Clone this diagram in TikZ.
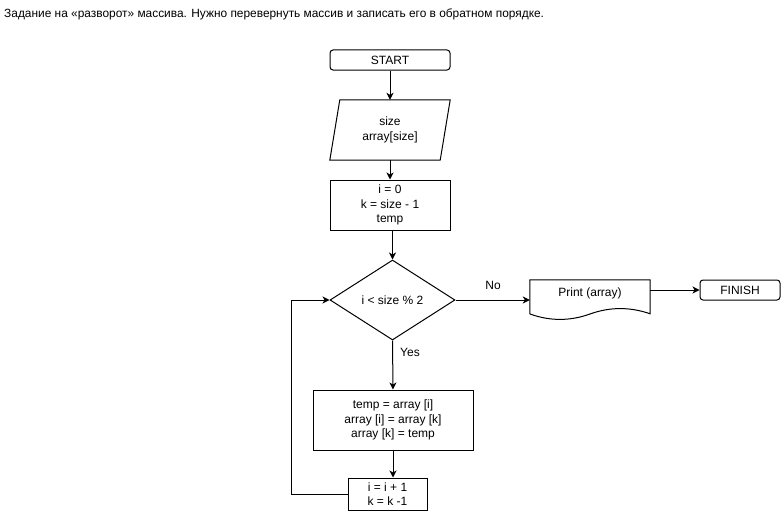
\documentclass[tikz,border=0pt]{standalone}
\usepackage{fontspec}
\setmainfont{Liberation Sans}
\usetikzlibrary{shapes.geometric,arrows.meta}
\begin{document}
\begin{tikzpicture}[x=1pt,y=-1pt,
  every node/.style={font=\fontsize{12}{14.4}\selectfont, align=center, inner sep=0pt},
  blk/.style={draw, line width=1pt, minimum width=#1},
  term/.style={draw, line width=1pt, rounded corners=3pt, minimum height=20pt},
  arr/.style={line width=1pt, -{Stealth[length=7pt,width=7pt,inset=2pt]}},
  lbl/.style={font=\fontsize{12}{14.4}\selectfont}]
\useasboundingbox (0,0) rectangle (781,511);

% heading
\node[anchor=west, font=\fontsize{11.9}{14}\selectfont] (title) at (4,14)
  {Задание на «разворот» массива. Нужно перевернуть массив и записать его в обратном порядке.};

% blocks
\node[term, minimum width=120pt] (start) at (390,60) {START};
\node[minimum width=120pt, minimum height=60pt] (io) at (390,130) {size\\array[size]};
\draw[line width=1pt] ([xshift=10pt]io.north west) -- (io.north east)
  -- ([xshift=-10pt]io.south east) -- (io.south west) -- cycle;
\node[blk=120pt, minimum height=50pt] (init) at (390,205) {i = 0\\k = size - 1\\temp};
\node[draw, diamond, line width=1pt, minimum width=125pt, minimum height=80pt] (dia) at (392.5,300) {i < size \% 2};
\node[minimum width=120pt, minimum height=40pt] (doc) at (590,300) {};
\node at (590,293) {Print (array)};
\draw[line width=1pt] (doc.south west) ++(0,-6) -- (doc.north west) -- (doc.north east) -- ++(0,34)
  .. controls (630,306.8) and (610,306.8) .. (590,314)
  .. controls (570,321.2) and (550,321.2) .. (530,314);
\node[term, minimum width=80pt] (fin) at (740,290) {FINISH};
\node[blk=160pt, minimum height=60pt] (body) at (393,420) {temp = array [i]\\array [i] = array [k]\\array [k] = temp};
\node[blk=79pt, minimum height=32pt] (inc) at (387.5,494) {i = i + 1\\k = k -1};
\coordinate (lp) at (291,494);

% connectors
\draw[arr] (start) -- (io);
\draw[arr] (io.south) -- (init.north);
\draw[arr] (init.south -| dia.north) -- (dia.north);
\draw[arr] (dia.east) -- (doc.west |- dia.east);
\draw[arr] (doc.east |- fin.west) -- (fin.west);
\draw[arr] (dia.south) -- (body.north);
\draw[arr] (body.south) -- (body.south |- inc.north);
\draw[arr] (inc.west) -- (lp) |- (dia.west);

% branch labels
\node[lbl] (no) at (493,285) {No};
\node[lbl] (yes) at (410,352) {Yes};
\end{tikzpicture}
\end{document}
